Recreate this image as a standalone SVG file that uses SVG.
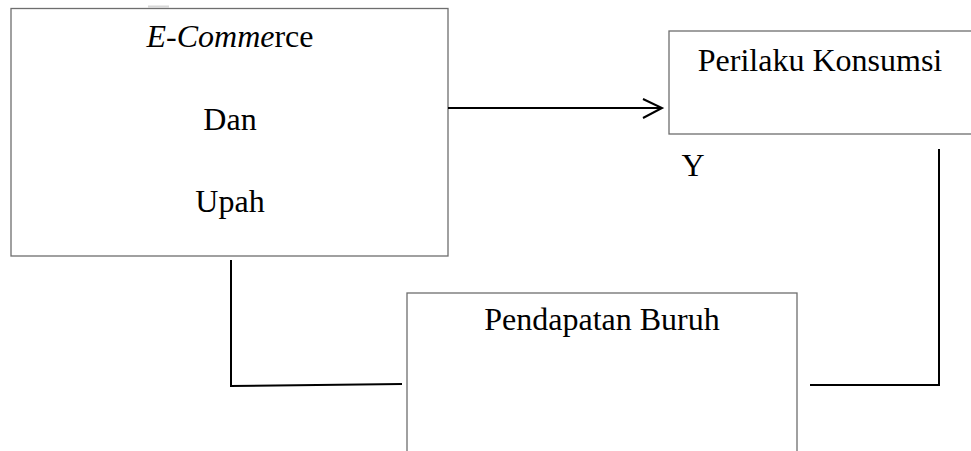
<svg xmlns="http://www.w3.org/2000/svg" width="971" height="451" viewBox="0 0 971 451">
<style>
.box{fill:#fff;stroke:#6e6e6e;stroke-width:1.3}
.t{font-family:"Liberation Serif","Times New Roman",serif;font-size:32px;fill:#000;text-anchor:middle}
.c{fill:none;stroke:#000;stroke-width:2}
</style>
<rect x="0" y="0" width="971" height="451" fill="#fff"/>
<rect x="148" y="5.5" width="21" height="2" fill="#d8d8d8"/>
<g id="ecommerce">
<rect class="box" x="11" y="8.5" width="437" height="247.5"/>
<text class="t" x="230" y="47"><tspan font-style="italic">E-Comme</tspan>rce</text>
<text class="t" x="230" y="130">Dan</text>
<text class="t" x="230" y="212">Upah</text>
</g>
<g id="perilaku">
<rect class="box" x="669" y="31" width="310" height="103"/>
<text class="t" x="820" y="71">Perilaku Konsumsi</text>
</g>
<g id="label-y">
<text class="t" x="693" y="176">Y</text>
</g>
<g id="pendapatan">
<rect class="box" x="407" y="293" width="390" height="170"/>
<text class="t" x="602" y="330">Pendapatan Buruh</text>
</g>
<g id="connectors">
<line class="c" x1="448" y1="108" x2="662" y2="108"/>
<polyline class="c" points="643,99 662,108 643,118"/>
<polyline class="c" points="231,260 231,386 402,384"/>
<polyline class="c" points="939,149 939,385 810,385"/>
</g>
</svg>
